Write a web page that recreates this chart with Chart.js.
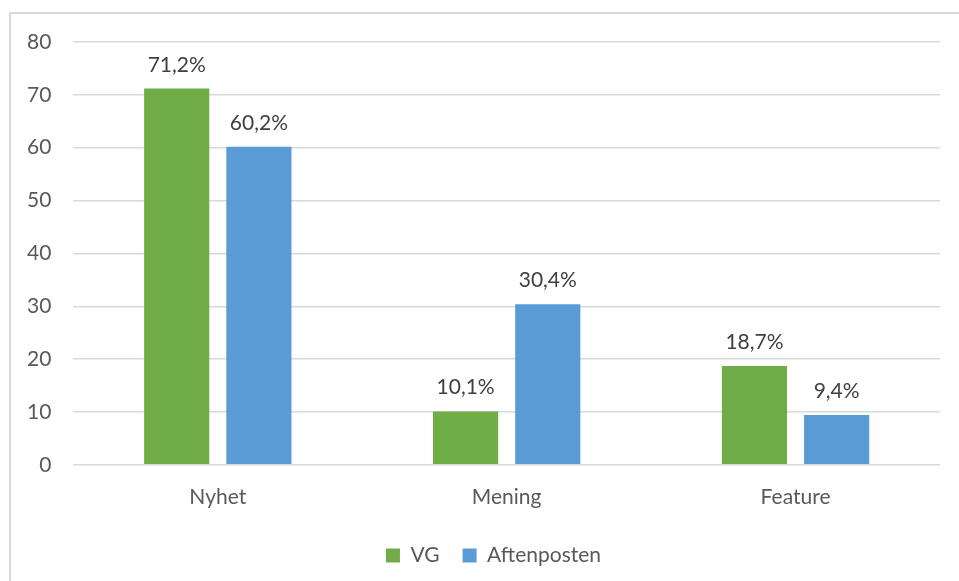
<!DOCTYPE html>
<html>
<head>
<meta charset="utf-8">
<script src="https://cdn.jsdelivr.net/npm/chart.js@4"></script>
<style>
  body { margin: 0; background: #fff; }
  #wrap { position: relative; width: 959px; height: 581px; }
  #frame { position: absolute; left: 9px; top: 12px; width: 960px; height: 580px; border: 2px solid #d9d9d9; box-sizing: border-box; }
  canvas { position: absolute; left: 0; top: 0; }
</style>
</head>
<body>
<div id="wrap">
  <div id="frame"></div>
  <canvas id="chart" width="959" height="581"></canvas>
</div>
<script>
// values
const categories = ['Nyhet', 'Mening', 'Feature'];
const vgValues = [71.2, 10.1, 18.7];
const aftenpostenValues = [60.2, 30.4, 9.4];
const yTicks = [0, 10, 20, 30, 40, 50, 60, 70, 80];

const fontFamily = 'Lato, "Open Sans", sans-serif';
const fontSize = 21;

// draws "71,2%" style labels above each bar
const valueLabels = {
  id: 'valueLabels',
  afterDatasetsDraw(chart) {
    const ctx = chart.ctx;
    ctx.save();
    ctx.font = fontSize + 'px ' + fontFamily;
    ctx.fillStyle = '#404040';
    ctx.textAlign = 'center';
    ctx.textBaseline = 'alphabetic';
    chart.data.datasets.forEach((ds, i) => {
      chart.getDatasetMeta(i).data.forEach((bar, j) => {
        const txt = ds.data[j].toFixed(1).replace('.', ',') + '%';
        ctx.fillText(txt, bar.x, bar.y - 17);
      });
    });
    ctx.restore();
  }
};

// legend in the original sits centred on the frame, a bit right of the canvas centre
const legendShift = {
  id: 'legendShift',
  afterLayout(chart) {
    chart.legend.left += 21;
    chart.legend.right += 21;
  }
};

const ctx = document.getElementById('chart').getContext('2d');
new Chart(ctx, {
  type: 'bar',
  data: {
    labels: categories,
    datasets: [
      { label: 'VG', data: vgValues, backgroundColor: '#70ad47' },
      { label: 'Aftenposten', data: aftenpostenValues, backgroundColor: '#5b9bd5' }
    ]
  },
  options: {
    responsive: false,
    animation: false,
    layout: { padding: { left: 5, right: 19, top: 42, bottom: 5 } },
    datasets: { bar: { categoryPercentage: 0.569, barPercentage: 0.793 } },
    plugins: {
      tooltip: { enabled: false },
      legend: {
        position: 'bottom',
        labels: {
          boxWidth: 14,
          boxHeight: 14,
          padding: 23,
          color: '#595959',
          font: { family: fontFamily, size: fontSize }
        }
      }
    },
    scales: {
      x: {
        grid: { display: false },
        border: { display: false },
        ticks: { color: '#595959', padding: 12, font: { family: fontFamily, size: fontSize } }
      },
      y: {
        min: 0,
        max: 80,
        afterBuildTicks(axis) { axis.ticks = yTicks.map(v => ({ value: v })); },
        grid: { color: '#d9d9d9', lineWidth: 1.5, drawTicks: false },
        border: { display: false },
        ticks: { color: '#595959', padding: 22, font: { family: fontFamily, size: fontSize } }
      }
    }
  },
  plugins: [valueLabels, legendShift]
});
</script>
</body>
</html>
